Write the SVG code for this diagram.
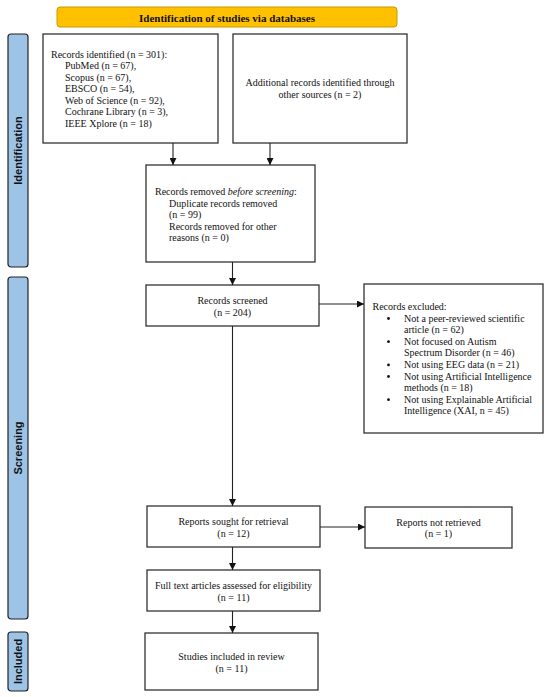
<svg xmlns="http://www.w3.org/2000/svg" width="550" height="697" viewBox="0 0 550 697">
<defs>
<marker id="ah" viewBox="0 0 10 10" refX="10" refY="5" markerWidth="7" markerHeight="7" markerUnits="userSpaceOnUse" orient="auto">
<path d="M0,0 L10,5 L0,10 Z" fill="#111"/>
</marker>
<style>
.box{fill:#fff;stroke:#333;stroke-width:1.3}
.side{fill:#9DC3E6;stroke:#222;stroke-width:1.2}
.t{font-family:"Liberation Serif","Times New Roman",serif;font-size:10px;fill:#111}
.c{text-anchor:middle}
.lab{font-family:"Liberation Sans",Arial,sans-serif;font-size:11px;font-weight:bold;fill:#111;text-anchor:middle}
.con{stroke:#222;stroke-width:1.1;fill:none;marker-end:url(#ah)}
</style>
</defs>
<rect width="550" height="697" fill="#fff"/>

<g id="header">
<rect x="57" y="7" width="340" height="20" rx="3" fill="#FFC000" stroke="#C89B00" stroke-width="1"/>
<text x="227" y="21.5" class="t c" style="font-weight:bold;font-size:11px">Identification of studies via databases</text>
</g>

<g id="side-identification">
<rect x="8" y="34" width="20" height="233" rx="3" class="side"/>
<text transform="translate(22,150.5) rotate(-90)" class="lab">Identification</text>
</g>
<g id="side-screening">
<rect x="8" y="277" width="20" height="342" rx="3" class="side"/>
<text transform="translate(22,448) rotate(-90)" class="lab">Screening</text>
</g>
<g id="side-included">
<rect x="8" y="632" width="20" height="59" rx="3" class="side"/>
<text transform="translate(22,661.5) rotate(-90)" class="lab">Included</text>
</g>

<g id="records-identified">
<rect x="43" y="34" width="175" height="109" class="box"/>
<text class="t" x="51" y="57.5">Records identified (n = 301):</text>
<text class="t" x="65" y="69">PubMed (n = 67),</text>
<text class="t" x="65" y="80.5">Scopus (n = 67),</text>
<text class="t" x="65" y="92">EBSCO (n = 54),</text>
<text class="t" x="65" y="103.5">Web of Science (n = 92),</text>
<text class="t" x="65" y="115">Cochrane Library (n = 3),</text>
<text class="t" x="65" y="126.5">IEEE Xplore (n = 18)</text>
</g>

<g id="additional-records">
<rect x="233" y="34" width="174" height="109" class="box"/>
<text class="t c" x="320" y="85.5">Additional records identified through</text>
<text class="t c" x="320" y="97.5">other sources (n = 2)</text>
</g>

<g id="records-removed">
<rect x="146" y="165" width="169" height="97" class="box"/>
<text class="t" x="155" y="195">Records removed <tspan font-style="italic">before screening</tspan>:</text>
<text class="t" x="169" y="206.5">Duplicate records removed</text>
<text class="t" x="169" y="218">(n = 99)</text>
<text class="t" x="169" y="229.5">Records removed for other</text>
<text class="t" x="169" y="241">reasons (n = 0)</text>
</g>

<g id="records-screened">
<rect x="146" y="285" width="173" height="41" class="box"/>
<text class="t c" x="232.5" y="304">Records screened</text>
<text class="t c" x="232.5" y="316">(n = 204)</text>
</g>

<g id="records-excluded">
<rect x="364" y="284" width="179" height="149" class="box"/>
<text class="t" x="372.5" y="310">Records excluded:</text>
<g class="t">
<circle cx="388.5" cy="318.5" r="1.4" fill="#111"/>
<circle cx="388.5" cy="341.7" r="1.4" fill="#111"/>
<circle cx="388.5" cy="364.9" r="1.4" fill="#111"/>
<circle cx="388.5" cy="376.5" r="1.4" fill="#111"/>
<circle cx="388.5" cy="399.7" r="1.4" fill="#111"/>
</g>
<text class="t" x="404" y="321.6">Not a peer-reviewed scientific</text>
<text class="t" x="404" y="333.2">article (n = 62)</text>
<text class="t" x="404" y="344.8">Not focused on Autism</text>
<text class="t" x="404" y="356.4">Spectrum Disorder (n = 46)</text>
<text class="t" x="404" y="368">Not using EEG data (n = 21)</text>
<text class="t" x="404" y="379.6">Not using Artificial Intelligence</text>
<text class="t" x="404" y="391.2">methods (n = 18)</text>
<text class="t" x="404" y="402.8">Not using Explainable Artificial</text>
<text class="t" x="404" y="414.4">Intelligence (XAI, n = 45)</text>
</g>

<g id="reports-sought">
<rect x="147" y="506" width="173" height="41" class="box"/>
<text class="t c" x="233.5" y="525">Reports sought for retrieval</text>
<text class="t c" x="233.5" y="536.5">(n = 12)</text>
</g>

<g id="reports-not-retrieved">
<rect x="365" y="507" width="147" height="41" class="box"/>
<text class="t c" x="438.5" y="525.5">Reports not retrieved</text>
<text class="t c" x="438.5" y="537">(n = 1)</text>
</g>

<g id="full-text">
<rect x="147" y="570" width="173" height="41" class="box"/>
<text class="t c" x="233.5" y="589">Full text articles assessed for eligibility</text>
<text class="t c" x="233.5" y="600.5">(n = 11)</text>
</g>

<g id="studies-included">
<rect x="145" y="633" width="173" height="57" class="box"/>
<text class="t c" x="231.5" y="660">Studies included in review</text>
<text class="t c" x="231.5" y="671.5">(n = 11)</text>
</g>

<g id="connectors">
<line class="con" x1="173" y1="143" x2="173" y2="165"/>
<line class="con" x1="270" y1="143" x2="270" y2="165"/>
<line class="con" x1="232.5" y1="262" x2="232.5" y2="285"/>
<line class="con" x1="319" y1="304" x2="364" y2="304"/>
<line class="con" x1="232.5" y1="326" x2="232.5" y2="506"/>
<line class="con" x1="320" y1="527" x2="365" y2="527"/>
<line class="con" x1="232.5" y1="547" x2="232.5" y2="570"/>
<line class="con" x1="232.5" y1="611" x2="232.5" y2="633"/>
</g>
</svg>
